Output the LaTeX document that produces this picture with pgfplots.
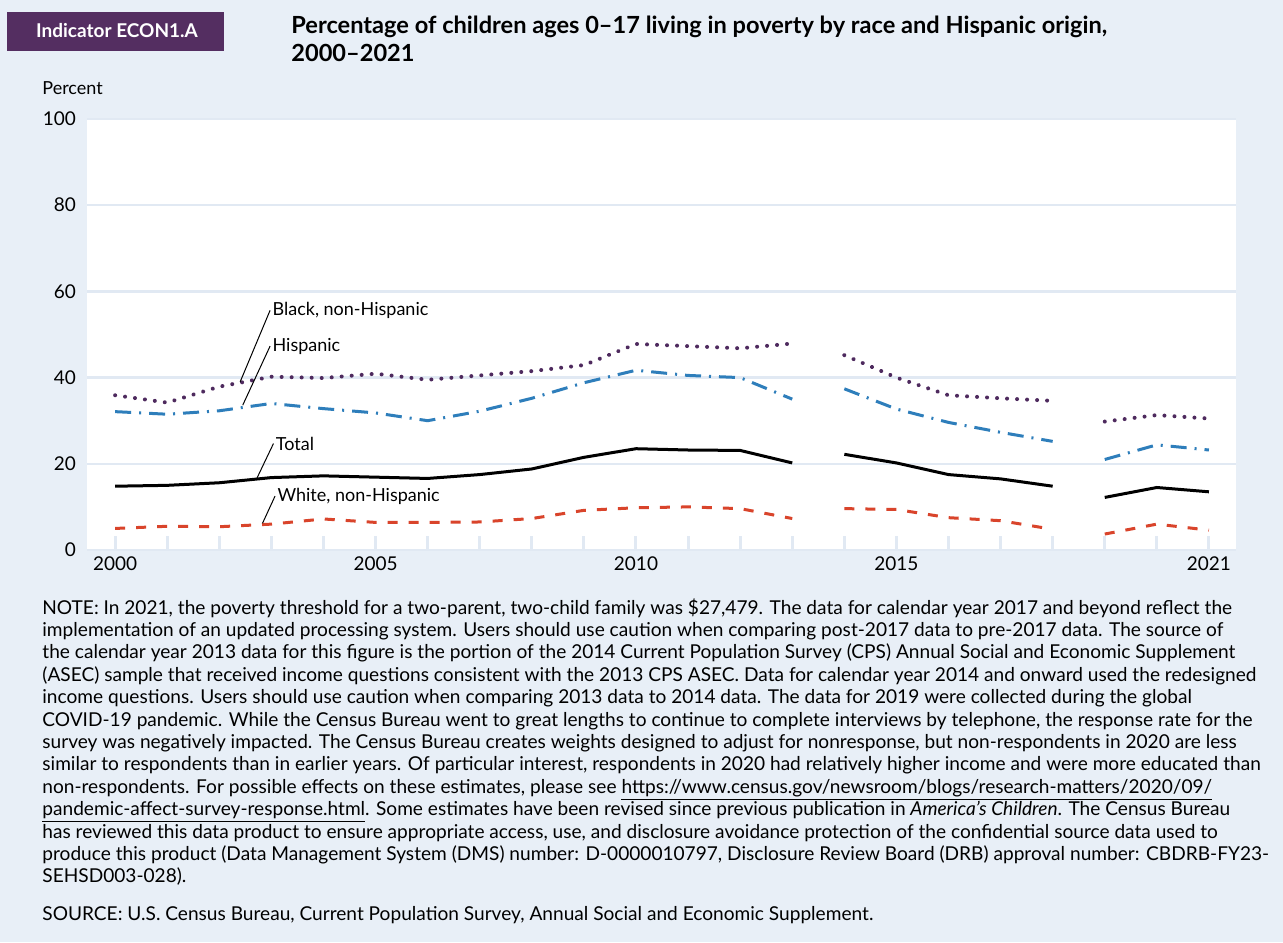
\documentclass[border=0pt]{standalone}
\usepackage{fontspec}
\setmainfont{Lato}
\usepackage{pgfplots}
\usepackage{pgfplotstable}
\pgfplotsset{compat=1.18}

\definecolor{bgc}{HTML}{E8EFF7}
\definecolor{gridc}{HTML}{E1E9F3}
\definecolor{headc}{HTML}{542E61}
\definecolor{blackc}{HTML}{4E2A5E}
\definecolor{hispc}{HTML}{2E7EBB}
\definecolor{whitec}{HTML}{D9442B}

% columns: position (0 = 2000 ... 21 = 2021), percent
\pgfplotstableread{
x y
0 14.8
1 15.0
2 15.6
3 16.8
4 17.2
5 16.9
6 16.6
7 17.5
8 18.8
9 21.5
10 23.5
11 23.2
12 23.1
13 20.2
14 22.2
15 20.2
16 17.5
17 16.5
18 14.8
19 12.2
20 14.5
21 13.5
}\totaldata

\pgfplotstableread{
x y
0 35.9
1 34.2
2 37.9
3 40.2
4 39.9
5 40.9
6 39.5
7 40.5
8 41.5
9 42.9
10 47.8
11 47.3
12 46.8
13 47.9
14 45.2
15 40.0
16 35.9
17 35.2
18 34.6
19 29.8
20 31.3
21 30.5
}\blackdata

\pgfplotstableread{
x y
0 32.1
1 31.5
2 32.3
3 34.0
4 32.8
5 31.8
6 30.0
7 32.2
8 35.2
9 38.8
10 41.7
11 40.5
12 40.0
13 35.0
14 37.4
15 32.7
16 29.6
17 27.3
18 25.2
19 21.0
20 24.4
21 23.2
}\hispdata

\pgfplotstableread{
x y
0 5.0
1 5.5
2 5.4
3 6.0
4 7.2
5 6.4
6 6.4
7 6.5
8 7.3
9 9.2
10 9.8
11 10.0
12 9.6
13 7.3
14 9.6
15 9.4
16 7.5
17 6.8
18 4.8
19 3.7
20 6.0
21 4.6
}\whitedata

\tikzset{
  totalline/.style={black, line width=1.5pt},
  blackline/.style={blackc, line width=2pt, line cap=round, dash pattern=on 0.01pt off 5pt},
  hispline/.style={hispc, line width=1.5pt, dash pattern=on 8pt off 4pt on 1pt off 4pt},
  whiteline/.style={whitec, line width=1.5pt, dash pattern=on 5pt off 5.5pt},
}

\begin{document}
\begin{tikzpicture}
\fill[bgc] (0,0) rectangle (641.5pt,471pt);

% header
\fill[headc] (3.5pt,445.5pt) rectangle (112pt,465pt);
\node[white, font=\fontsize{9.5}{11}\selectfont\bfseries, anchor=center] at (58.5pt,455.5pt) {Indicator ECON1.A};
\node[anchor=north west, inner sep=0pt, align=left, font=\fontsize{11.8}{14}\selectfont\bfseries] at (145.5pt,463pt)
  {Percentage of children ages 0–17 living in poverty by race and Hispanic origin,\\2000–2021};
\node[anchor=west, inner sep=0pt, font=\fontsize{9}{11}\selectfont] at (21pt,427pt) {Percent};

\begin{axis}[
  at={(43.5pt,196pt)}, anchor=south west,
  width=574.5pt, height=215.5pt, scale only axis,
  xmin=-0.54, xmax=21.52, ymin=0, ymax=100,
  axis background/.style={fill=white},
  axis line style={draw=none},
  ytick={0,20,40,60,80,100},
  xtick={0,...,21},
  xticklabels={2000,,,,,2005,,,,,2010,,,,,2015,,,,,,2021},
  xtick pos=bottom, ytick pos=left,
  ymajorgrids, grid style={color=gridc, line width=1.2pt},
  tick align=inside,
  major tick length=7pt,
  xtick style={color=gridc, line width=1.5pt},
  ytick style={draw=none},
  ticklabel style={font=\fontsize{9.5}{11}\selectfont},
  yticklabel style={xshift=-2pt},
  /pgf/number format/assume math mode=true,
  clip=false,
]
\addplot[totalline, restrict x to domain=0:13] table {\totaldata};
\addplot[totalline, restrict x to domain=14:18] table {\totaldata};
\addplot[totalline, restrict x to domain=19:21] table {\totaldata};
\addplot[blackline, restrict x to domain=0:13] table {\blackdata};
\addplot[blackline, restrict x to domain=14:18] table {\blackdata};
\addplot[blackline, restrict x to domain=19:21] table {\blackdata};
\addplot[hispline, restrict x to domain=0:13] table {\hispdata};
\addplot[hispline, restrict x to domain=14:18] table {\hispdata};
\addplot[hispline, restrict x to domain=19:21] table {\hispdata};
\addplot[whiteline, restrict x to domain=0:13] table {\whitedata};
\addplot[whiteline, restrict x to domain=14:18] table {\whitedata};
\addplot[whiteline, restrict x to domain=19:21] table {\whitedata};

% series labels with leader lines
\begin{scope}[every node/.style={anchor=west, inner sep=1pt, font=\fontsize{9}{11}\selectfont}]
\draw[line width=0.5pt] (axis cs:2.40,39.0) -- (axis cs:2.975,55.6) node {Black, non-Hispanic};
\draw[line width=0.5pt] (axis cs:2.45,33.6) -- (axis cs:2.975,47.3) node {Hispanic};
\draw[line width=0.5pt] (axis cs:2.72,16.6) -- (axis cs:3.04,24.7) node {Total};
\draw[line width=0.5pt] (axis cs:2.83,6.2) -- (axis cs:3.07,12.5) node {White, non-Hispanic};
\end{scope}
\end{axis}

\node[anchor=north west, inner sep=0pt, align=left, font=\fontsize{9.55}{11.2}\selectfont] at (21pt,172pt) {%
NOTE: In 2021, the poverty threshold for a two-parent, two-child family was \$27,479. The data for calendar year 2017 and beyond reflect the\\
implementation of an updated processing system. Users should use caution when comparing post-2017 data to pre-2017 data. The source of\\
the calendar year 2013 data for this figure is the portion of the 2014 Current Population Survey (CPS) Annual Social and Economic Supplement\\
(ASEC) sample that received income questions consistent with the 2013 CPS ASEC. Data for calendar year 2014 and onward used the redesigned\\
income questions. Users should use caution when comparing 2013 data to 2014 data. The data for 2019 were collected during the global\\
COVID-19 pandemic. While the Census Bureau went to great lengths to continue to complete interviews by telephone, the response rate for the\\
survey was negatively impacted. The Census Bureau creates weights designed to adjust for nonresponse, but non-respondents in 2020 are less\\
similar to respondents than in earlier years. Of particular interest, respondents in 2020 had relatively higher income and were more educated than\\
non-respondents. For possible effects on these estimates, please see \underline{https://www.census.gov/newsroom/blogs/research-matters/2020/09/}\\
\underline{pandemic-affect-survey-response.html}. Some estimates have been revised since previous publication in \textit{America’s Children}. The Census Bureau\\
has reviewed this data product to ensure appropriate access, use, and disclosure avoidance protection of the confidential source data used to\\
produce this product (Data Management System (DMS) number: D-0000010797, Disclosure Review Board (DRB) approval number: CBDRB-FY23-\\
SEHSD003-028).};
\node[anchor=north west, inner sep=0pt, font=\fontsize{9.55}{11.2}\selectfont] at (21pt,18pt)
  {SOURCE: U.S. Census Bureau, Current Population Survey, Annual Social and Economic Supplement.};

\pgfresetboundingbox
\path[use as bounding box] (0,0) rectangle (641.5pt,471pt);
\end{tikzpicture}
\end{document}
